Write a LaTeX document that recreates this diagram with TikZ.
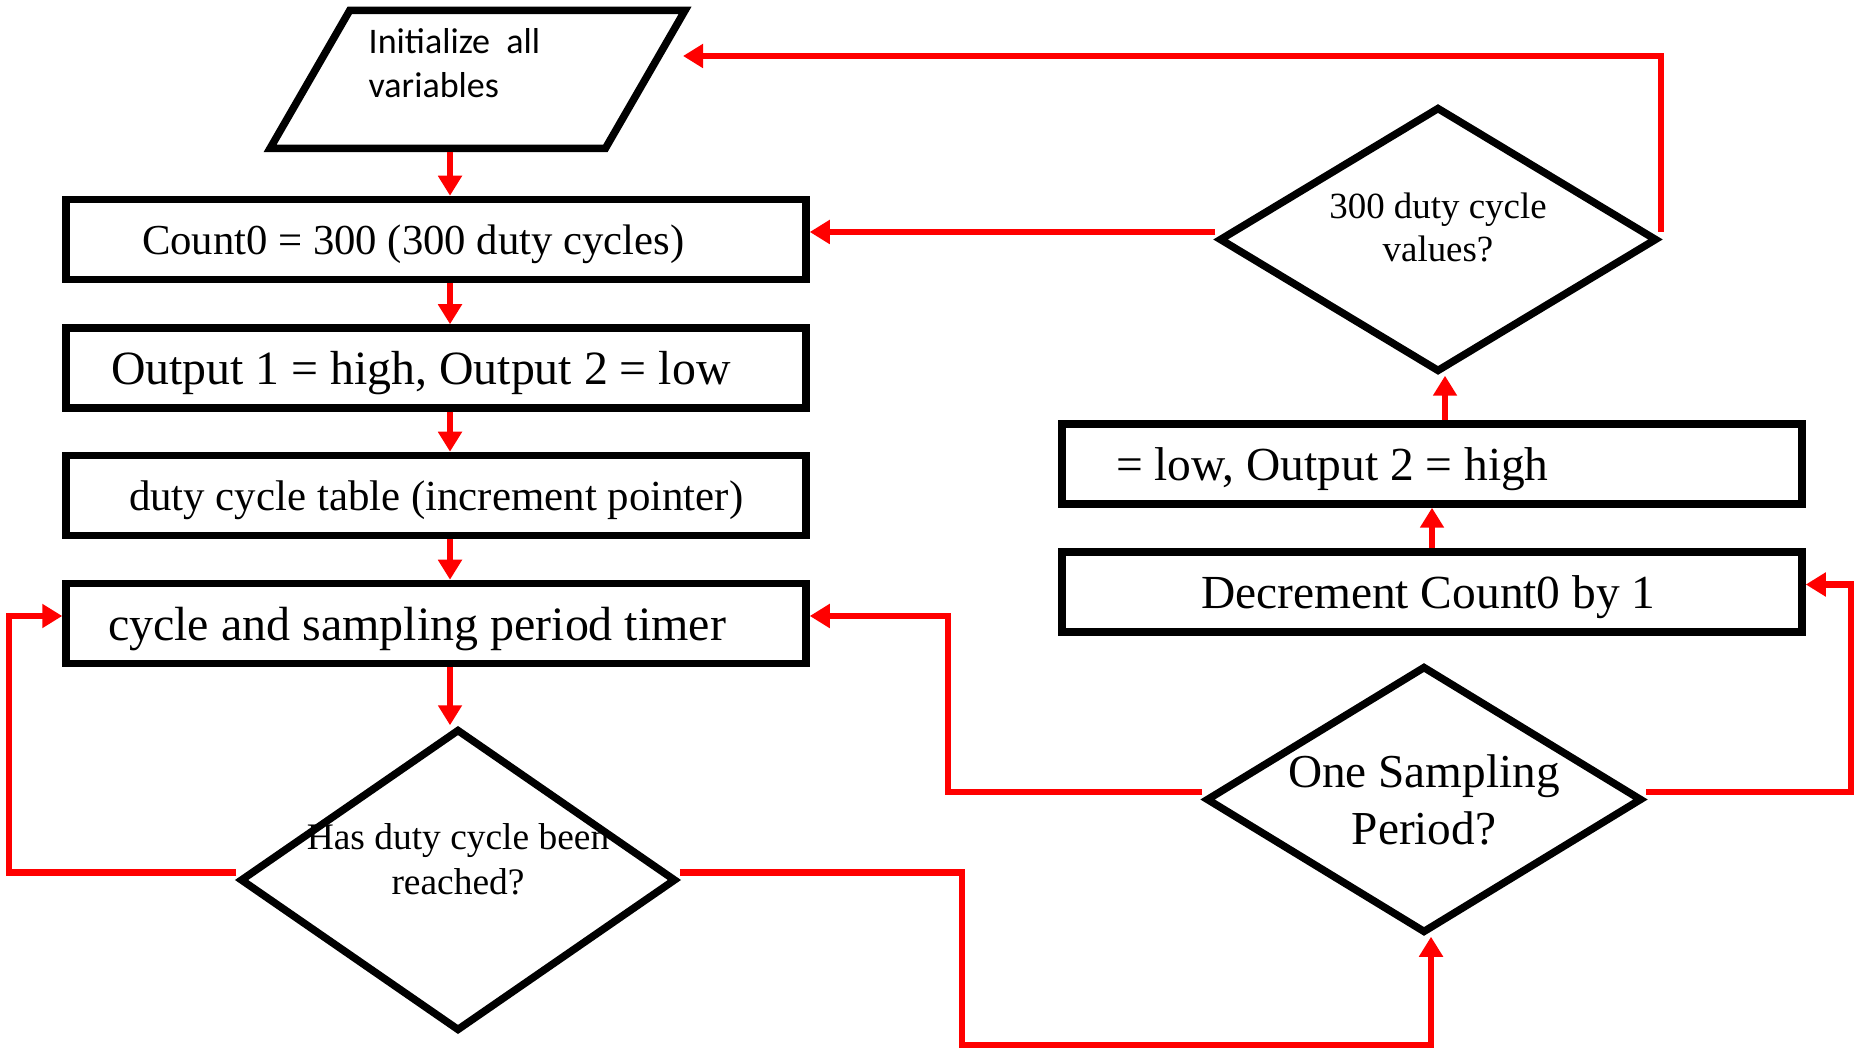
\documentclass[tikz,border=0pt]{standalone}
\usepackage{fontspec}
\setmainfont{Liberation Serif}
\newfontfamily\calibri{Carlito}
\usetikzlibrary{arrows.meta,shapes.geometric}

\begin{document}
\begin{tikzpicture}[>={Triangle[length=2mm,width=2.3mm]},x=0.1mm,y=-0.1mm,
    box/.style={draw,line width=.75mm,minimum height=8mm,text width=74mm,
      text depth=0pt,inner xsep=0pt,inner ysep=0pt,align=flush left},
    decision/.style={diamond,draw,line width=.75mm,inner sep=0pt},
    qtext/.style={align=center,inner sep=0pt},
    flow/.style={->,red,line width=.65mm}]
  \useasboundingbox (0,0) rectangle (1858,1048);
  % columns the wires run along
  \coordinate (spine) at (450,0);
  \coordinate (lft) at (9,0);
  \coordinate (rgt) at (1851,0);
  \coordinate (rjog) at (948,0);
  \coordinate (bjog) at (962,1045);

  % left column
  \node[trapezium,trapezium left angle=60,trapezium right angle=120,
    trapezium stretches body,draw,line width=.75mm,
    inner xsep=0pt,inner ysep=6.9mm,minimum width=41.5mm] (init) at (477.5,79.5) {};
  \node[anchor=north west,align=left,inner sep=0pt,
    font=\calibri\fontsize{10.25pt}{12.5pt}\selectfont] (inittxt) at (368,28)
    {Initialize\ \ all\\variables};
  \node[box,font=\fontsize{12.15pt}{14pt}\selectfont] (b1) at (436,239.5)
    {\hspace*{7.6mm}Count0 = 300 (300 duty cycles)};
  \node[box,font=\fontsize{13.6pt}{16pt}\selectfont] (b2) at (436,368)
    {\hspace*{4.5mm}Output 1 = high, Output 2 = low};
  \node[box,font=\fontsize{12.2pt}{14pt}\selectfont] (b3) at (436,495.5)
    {\hspace*{6.3mm}duty cycle table (increment pointer)};
  \node[box,font=\fontsize{13.65pt}{16pt}\selectfont] (b4) at (436,623.5)
    {\hspace*{4.2mm}cycle and sampling period timer};
  \node[decision,minimum width=43.6mm,minimum height=30.2mm] (d1) at (458,880) {};
  \node[qtext,font=\fontsize{10.65pt}{12.8pt}\selectfont] (d1txt)
    at ([yshift=2.1mm]d1) {Has duty cycle been\\reached?};

  % right column
  \node[decision,minimum width=43.8mm,minimum height=26.5mm] (d3) at (1438,239.5) {};
  \node[qtext,font=\fontsize{10.5pt}{12.5pt}\selectfont] (d3txt)
    at ([yshift=1.2mm]d3) {300 duty cycle\\values?};
  \node[box,font=\fontsize{13.5pt}{16pt}\selectfont] (outp) at (1432,464)
    {\hspace*{5.4mm}= low, Output 2 = high};
  \node[box,font=\fontsize{13.5pt}{16pt}\selectfont] (dec) at (1432,592)
    {\hspace*{13.9mm}Decrement Count0 by 1};
  \node[decision,minimum width=43.6mm,minimum height=26.7mm] (d2) at (1424,799.5) {};
  \node[qtext,font=\fontsize{13.45pt}{16.2pt}\selectfont] (d2txt)
    at (d2) {One Sampling\\Period?};

  % main flow
  \draw[flow] (init.south -| spine) -- (b1.north -| spine);
  \draw[flow] (b1.south -| spine) -- (b2.north -| spine);
  \draw[flow] (b2.south -| spine) -- (b3.north -| spine);
  \draw[flow] (b3.south -| spine) -- (b4.north -| spine);
  \draw[flow] (b4.south -| spine) -- (d1.north -| spine);
  \draw[flow] ([yshift=.75mm]d1.west) -| ([yshift=.75mm]lft |- b4.west)
    -- ([yshift=.75mm]b4.west);
  \draw[flow] ([yshift=.75mm]d1.east) -| (bjog) -| ([xshift=.7mm]d2.south);
  \draw[flow] ([yshift=.75mm]d2.west) -| ([yshift=.75mm]rjog |- b4.east)
    -- ([yshift=.75mm]b4.east);
  \draw[flow] ([yshift=.75mm]d2.east) -| ([yshift=.75mm]rgt |- dec.east)
    -- ([yshift=.75mm]dec.east);
  \draw[flow] (dec.north) -- (outp.south);
  \draw[flow] ([xshift=.7mm]outp.north -| d3.south) -- ([xshift=.7mm]d3.south);
  \draw[flow] ([yshift=.75mm]d3.west) -- ([yshift=.75mm]b1.east);
  \draw[flow] ([yshift=.75mm]d3.east) |- ([shift={(3.35mm,2.35mm)}]init.east);
\end{tikzpicture}
\end{document}
